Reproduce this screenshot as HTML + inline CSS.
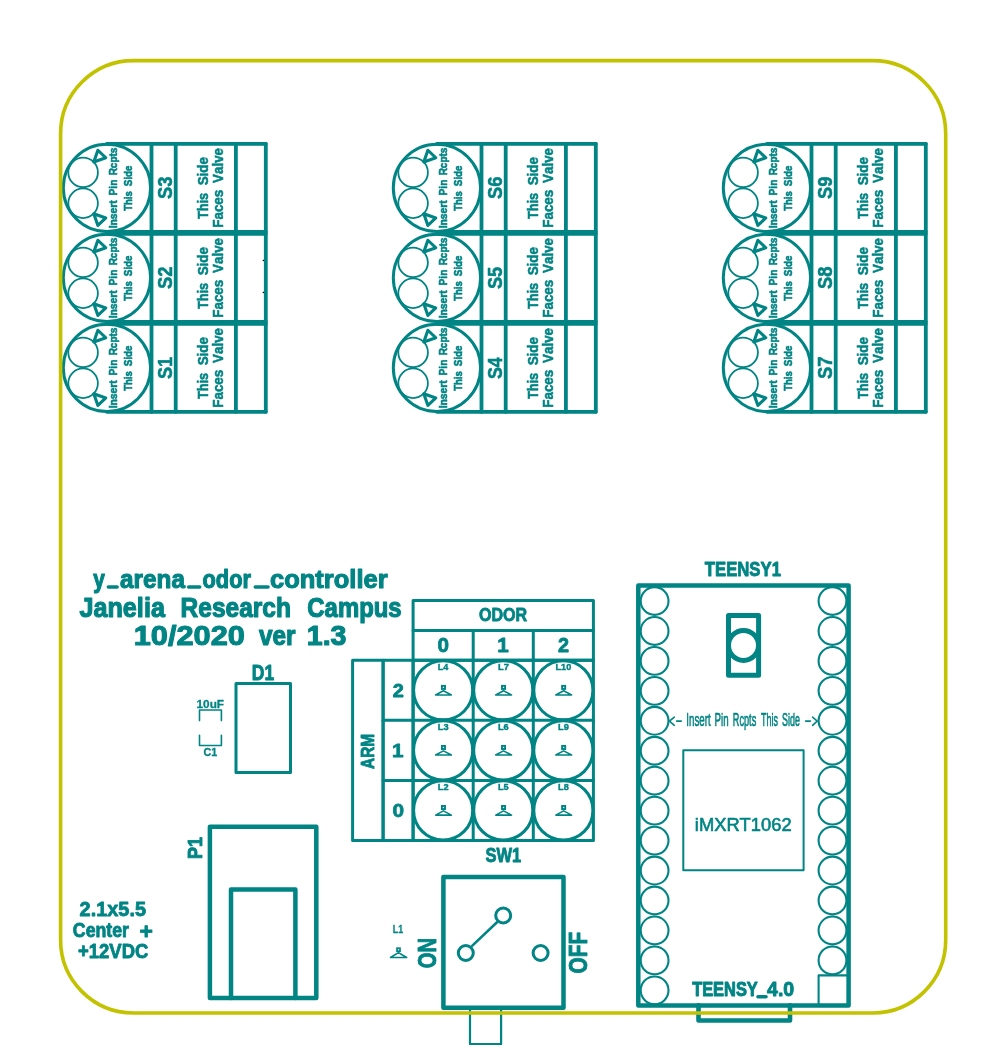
<!DOCTYPE html>
<html><head><meta charset="utf-8"><style>
html,body{margin:0;padding:0;background:#fff;}
svg{display:block}
text{font-family:"Liberation Sans",sans-serif;font-size:100px;font-kerning:none}
</style></head><body>
<svg style="will-change:transform" width="990" height="1050" viewBox="0 0 990 1050" stroke-linecap="round" stroke-linejoin="round">
<rect width="990" height="1050" fill="#fff"/>
<line x1="106.95" y1="143.85" x2="265.8" y2="143.85" stroke="#008484" stroke-width="3.8"/>
<line x1="106.95" y1="231.85" x2="265.8" y2="231.85" stroke="#008484" stroke-width="3.8"/>
<line x1="151.5" y1="143.85" x2="151.5" y2="231.85" stroke="#008484" stroke-width="3.8"/>
<line x1="175.7" y1="143.85" x2="175.7" y2="231.85" stroke="#008484" stroke-width="3.8"/>
<line x1="235.9" y1="143.85" x2="235.9" y2="231.85" stroke="#008484" stroke-width="3.8"/>
<line x1="265.8" y1="143.85" x2="265.8" y2="231.85" stroke="#008484" stroke-width="3.8"/>
<circle cx="106.95" cy="187.85" r="43.65" fill="none" stroke="#008484" stroke-width="3.0"/>
<circle cx="83.1" cy="172.45" r="14.8" fill="none" stroke="#008484" stroke-width="1.8"/>
<circle cx="83.1" cy="203.25" r="14.8" fill="none" stroke="#008484" stroke-width="1.8"/>
<polygon points="97.9,150.25 105.8,157.75 93.8,161.95" fill="none" stroke="#008484" stroke-width="3.1"/>
<polygon points="97.9,225.45 105.8,217.95 93.8,213.75" fill="none" stroke="#008484" stroke-width="3.1"/>
<text transform="translate(116.61,228.36) rotate(-90) scale(0.10293,0.11198)" font-weight="bold" fill="#008484" stroke="#008484" stroke-width="5.12" stroke-linejoin="round">Insert</text>
<text transform="translate(116.61,195.45) rotate(-90) scale(0.10194,0.11195)" font-weight="bold" fill="#008484" stroke="#008484" stroke-width="5.14" stroke-linejoin="round">Pin</text>
<text transform="translate(116.61,175.34) rotate(-90) scale(0.09993,0.11187)" font-weight="bold" fill="#008484" stroke="#008484" stroke-width="5.19" stroke-linejoin="round">Rcpts</text>
<text transform="translate(131.6,210.85) rotate(-90) scale(0.09552,0.11590)" font-weight="bold" fill="#008484" stroke="#008484" stroke-width="5.20" stroke-linejoin="round">This</text>
<text transform="translate(131.6,186.14) rotate(-90) scale(0.09803,0.11600)" font-weight="bold" fill="#008484" stroke="#008484" stroke-width="5.14" stroke-linejoin="round">Side</text>
<text transform="translate(172.32,199.12) rotate(-90) scale(0.18391,0.21079)" font-weight="bold" fill="#008484" stroke="#008484" stroke-width="2.53" stroke-linejoin="round">S3</text>
<text transform="translate(207.73,219.1) rotate(-90) scale(0.12821,0.15157)" font-weight="bold" fill="#008484" stroke="#008484" stroke-width="3.57" stroke-linejoin="round">This</text>
<text transform="translate(207.73,185.37) rotate(-90) scale(0.13430,0.15173)" font-weight="bold" fill="#008484" stroke="#008484" stroke-width="3.50" stroke-linejoin="round">Side</text>
<text transform="translate(222.83,227.81) rotate(-90) scale(0.13468,0.15316)" font-weight="bold" fill="#008484" stroke="#008484" stroke-width="3.47" stroke-linejoin="round">Faces</text>
<text transform="translate(222.83,182.9) rotate(-90) scale(0.13360,0.15313)" font-weight="bold" fill="#008484" stroke="#008484" stroke-width="3.49" stroke-linejoin="round">Valve</text>
<line x1="106.95" y1="233.85" x2="265.8" y2="233.85" stroke="#008484" stroke-width="3.8"/>
<line x1="106.95" y1="321.85" x2="265.8" y2="321.85" stroke="#008484" stroke-width="3.8"/>
<line x1="151.5" y1="233.85" x2="151.5" y2="321.85" stroke="#008484" stroke-width="3.8"/>
<line x1="175.7" y1="233.85" x2="175.7" y2="321.85" stroke="#008484" stroke-width="3.8"/>
<line x1="235.9" y1="233.85" x2="235.9" y2="321.85" stroke="#008484" stroke-width="3.8"/>
<line x1="265.8" y1="233.85" x2="265.8" y2="321.85" stroke="#008484" stroke-width="3.8"/>
<circle cx="106.95" cy="277.85" r="43.65" fill="none" stroke="#008484" stroke-width="3.0"/>
<circle cx="83.1" cy="262.45" r="14.8" fill="none" stroke="#008484" stroke-width="1.8"/>
<circle cx="83.1" cy="293.25" r="14.8" fill="none" stroke="#008484" stroke-width="1.8"/>
<polygon points="97.9,240.25 105.8,247.75 93.8,251.95" fill="none" stroke="#008484" stroke-width="3.1"/>
<polygon points="97.9,315.45 105.8,307.95 93.8,303.75" fill="none" stroke="#008484" stroke-width="3.1"/>
<text transform="translate(116.61,318.36) rotate(-90) scale(0.10293,0.11198)" font-weight="bold" fill="#008484" stroke="#008484" stroke-width="5.12" stroke-linejoin="round">Insert</text>
<text transform="translate(116.61,285.45) rotate(-90) scale(0.10194,0.11195)" font-weight="bold" fill="#008484" stroke="#008484" stroke-width="5.14" stroke-linejoin="round">Pin</text>
<text transform="translate(116.61,265.34) rotate(-90) scale(0.09993,0.11187)" font-weight="bold" fill="#008484" stroke="#008484" stroke-width="5.19" stroke-linejoin="round">Rcpts</text>
<text transform="translate(131.6,300.85) rotate(-90) scale(0.09552,0.11590)" font-weight="bold" fill="#008484" stroke="#008484" stroke-width="5.20" stroke-linejoin="round">This</text>
<text transform="translate(131.6,276.14) rotate(-90) scale(0.09803,0.11600)" font-weight="bold" fill="#008484" stroke="#008484" stroke-width="5.14" stroke-linejoin="round">Side</text>
<text transform="translate(172.32,289.12) rotate(-90) scale(0.18550,0.21082)" font-weight="bold" fill="#008484" stroke="#008484" stroke-width="2.52" stroke-linejoin="round">S2</text>
<text transform="translate(207.73,309.1) rotate(-90) scale(0.12821,0.15157)" font-weight="bold" fill="#008484" stroke="#008484" stroke-width="3.57" stroke-linejoin="round">This</text>
<text transform="translate(207.73,275.37) rotate(-90) scale(0.13430,0.15173)" font-weight="bold" fill="#008484" stroke="#008484" stroke-width="3.50" stroke-linejoin="round">Side</text>
<text transform="translate(222.83,317.81) rotate(-90) scale(0.13468,0.15316)" font-weight="bold" fill="#008484" stroke="#008484" stroke-width="3.47" stroke-linejoin="round">Faces</text>
<text transform="translate(222.83,272.9) rotate(-90) scale(0.13360,0.15313)" font-weight="bold" fill="#008484" stroke="#008484" stroke-width="3.49" stroke-linejoin="round">Valve</text>
<line x1="106.95" y1="323.85" x2="265.8" y2="323.85" stroke="#008484" stroke-width="3.8"/>
<line x1="106.95" y1="411.85" x2="265.8" y2="411.85" stroke="#008484" stroke-width="3.8"/>
<line x1="151.5" y1="323.85" x2="151.5" y2="411.85" stroke="#008484" stroke-width="3.8"/>
<line x1="175.7" y1="323.85" x2="175.7" y2="411.85" stroke="#008484" stroke-width="3.8"/>
<line x1="235.9" y1="323.85" x2="235.9" y2="411.85" stroke="#008484" stroke-width="3.8"/>
<line x1="265.8" y1="323.85" x2="265.8" y2="411.85" stroke="#008484" stroke-width="3.8"/>
<circle cx="106.95" cy="367.85" r="43.65" fill="none" stroke="#008484" stroke-width="3.0"/>
<circle cx="83.1" cy="352.45" r="14.8" fill="none" stroke="#008484" stroke-width="1.8"/>
<circle cx="83.1" cy="383.25" r="14.8" fill="none" stroke="#008484" stroke-width="1.8"/>
<polygon points="97.9,330.25 105.8,337.75 93.8,341.95" fill="none" stroke="#008484" stroke-width="3.1"/>
<polygon points="97.9,405.45 105.8,397.95 93.8,393.75" fill="none" stroke="#008484" stroke-width="3.1"/>
<text transform="translate(116.61,408.36) rotate(-90) scale(0.10293,0.11198)" font-weight="bold" fill="#008484" stroke="#008484" stroke-width="5.12" stroke-linejoin="round">Insert</text>
<text transform="translate(116.61,375.45) rotate(-90) scale(0.10194,0.11195)" font-weight="bold" fill="#008484" stroke="#008484" stroke-width="5.14" stroke-linejoin="round">Pin</text>
<text transform="translate(116.61,355.34) rotate(-90) scale(0.09993,0.11187)" font-weight="bold" fill="#008484" stroke="#008484" stroke-width="5.19" stroke-linejoin="round">Rcpts</text>
<text transform="translate(131.6,390.85) rotate(-90) scale(0.09552,0.11590)" font-weight="bold" fill="#008484" stroke="#008484" stroke-width="5.20" stroke-linejoin="round">This</text>
<text transform="translate(131.6,366.14) rotate(-90) scale(0.09803,0.11600)" font-weight="bold" fill="#008484" stroke="#008484" stroke-width="5.14" stroke-linejoin="round">Side</text>
<text transform="translate(172.32,379.12) rotate(-90) scale(0.18236,0.21076)" font-weight="bold" fill="#008484" stroke="#008484" stroke-width="2.54" stroke-linejoin="round">S1</text>
<text transform="translate(207.73,399.1) rotate(-90) scale(0.12821,0.15157)" font-weight="bold" fill="#008484" stroke="#008484" stroke-width="3.57" stroke-linejoin="round">This</text>
<text transform="translate(207.73,365.37) rotate(-90) scale(0.13430,0.15173)" font-weight="bold" fill="#008484" stroke="#008484" stroke-width="3.50" stroke-linejoin="round">Side</text>
<text transform="translate(222.83,407.81) rotate(-90) scale(0.13468,0.15316)" font-weight="bold" fill="#008484" stroke="#008484" stroke-width="3.47" stroke-linejoin="round">Faces</text>
<text transform="translate(222.83,362.9) rotate(-90) scale(0.13360,0.15313)" font-weight="bold" fill="#008484" stroke="#008484" stroke-width="3.49" stroke-linejoin="round">Valve</text>
<line x1="436.95" y1="143.85" x2="595.8" y2="143.85" stroke="#008484" stroke-width="3.8"/>
<line x1="436.95" y1="231.85" x2="595.8" y2="231.85" stroke="#008484" stroke-width="3.8"/>
<line x1="481.5" y1="143.85" x2="481.5" y2="231.85" stroke="#008484" stroke-width="3.8"/>
<line x1="505.7" y1="143.85" x2="505.7" y2="231.85" stroke="#008484" stroke-width="3.8"/>
<line x1="565.9" y1="143.85" x2="565.9" y2="231.85" stroke="#008484" stroke-width="3.8"/>
<line x1="595.8" y1="143.85" x2="595.8" y2="231.85" stroke="#008484" stroke-width="3.8"/>
<circle cx="436.95" cy="187.85" r="43.65" fill="none" stroke="#008484" stroke-width="3.0"/>
<circle cx="413.1" cy="172.45" r="14.8" fill="none" stroke="#008484" stroke-width="1.8"/>
<circle cx="413.1" cy="203.25" r="14.8" fill="none" stroke="#008484" stroke-width="1.8"/>
<polygon points="427.9,150.25 435.8,157.75 423.8,161.95" fill="none" stroke="#008484" stroke-width="3.1"/>
<polygon points="427.9,225.45 435.8,217.95 423.8,213.75" fill="none" stroke="#008484" stroke-width="3.1"/>
<text transform="translate(446.61,228.36) rotate(-90) scale(0.10293,0.11198)" font-weight="bold" fill="#008484" stroke="#008484" stroke-width="5.12" stroke-linejoin="round">Insert</text>
<text transform="translate(446.61,195.45) rotate(-90) scale(0.10194,0.11195)" font-weight="bold" fill="#008484" stroke="#008484" stroke-width="5.14" stroke-linejoin="round">Pin</text>
<text transform="translate(446.61,175.34) rotate(-90) scale(0.09993,0.11187)" font-weight="bold" fill="#008484" stroke="#008484" stroke-width="5.19" stroke-linejoin="round">Rcpts</text>
<text transform="translate(461.6,210.85) rotate(-90) scale(0.09552,0.11590)" font-weight="bold" fill="#008484" stroke="#008484" stroke-width="5.20" stroke-linejoin="round">This</text>
<text transform="translate(461.6,186.14) rotate(-90) scale(0.09803,0.11600)" font-weight="bold" fill="#008484" stroke="#008484" stroke-width="5.14" stroke-linejoin="round">Side</text>
<text transform="translate(502.32,199.12) rotate(-90) scale(0.18391,0.21079)" font-weight="bold" fill="#008484" stroke="#008484" stroke-width="2.53" stroke-linejoin="round">S6</text>
<text transform="translate(537.73,219.1) rotate(-90) scale(0.12821,0.15157)" font-weight="bold" fill="#008484" stroke="#008484" stroke-width="3.57" stroke-linejoin="round">This</text>
<text transform="translate(537.73,185.37) rotate(-90) scale(0.13430,0.15173)" font-weight="bold" fill="#008484" stroke="#008484" stroke-width="3.50" stroke-linejoin="round">Side</text>
<text transform="translate(552.83,227.81) rotate(-90) scale(0.13468,0.15316)" font-weight="bold" fill="#008484" stroke="#008484" stroke-width="3.47" stroke-linejoin="round">Faces</text>
<text transform="translate(552.83,182.9) rotate(-90) scale(0.13360,0.15313)" font-weight="bold" fill="#008484" stroke="#008484" stroke-width="3.49" stroke-linejoin="round">Valve</text>
<line x1="436.95" y1="233.85" x2="595.8" y2="233.85" stroke="#008484" stroke-width="3.8"/>
<line x1="436.95" y1="321.85" x2="595.8" y2="321.85" stroke="#008484" stroke-width="3.8"/>
<line x1="481.5" y1="233.85" x2="481.5" y2="321.85" stroke="#008484" stroke-width="3.8"/>
<line x1="505.7" y1="233.85" x2="505.7" y2="321.85" stroke="#008484" stroke-width="3.8"/>
<line x1="565.9" y1="233.85" x2="565.9" y2="321.85" stroke="#008484" stroke-width="3.8"/>
<line x1="595.8" y1="233.85" x2="595.8" y2="321.85" stroke="#008484" stroke-width="3.8"/>
<circle cx="436.95" cy="277.85" r="43.65" fill="none" stroke="#008484" stroke-width="3.0"/>
<circle cx="413.1" cy="262.45" r="14.8" fill="none" stroke="#008484" stroke-width="1.8"/>
<circle cx="413.1" cy="293.25" r="14.8" fill="none" stroke="#008484" stroke-width="1.8"/>
<polygon points="427.9,240.25 435.8,247.75 423.8,251.95" fill="none" stroke="#008484" stroke-width="3.1"/>
<polygon points="427.9,315.45 435.8,307.95 423.8,303.75" fill="none" stroke="#008484" stroke-width="3.1"/>
<text transform="translate(446.61,318.36) rotate(-90) scale(0.10293,0.11198)" font-weight="bold" fill="#008484" stroke="#008484" stroke-width="5.12" stroke-linejoin="round">Insert</text>
<text transform="translate(446.61,285.45) rotate(-90) scale(0.10194,0.11195)" font-weight="bold" fill="#008484" stroke="#008484" stroke-width="5.14" stroke-linejoin="round">Pin</text>
<text transform="translate(446.61,265.34) rotate(-90) scale(0.09993,0.11187)" font-weight="bold" fill="#008484" stroke="#008484" stroke-width="5.19" stroke-linejoin="round">Rcpts</text>
<text transform="translate(461.6,300.85) rotate(-90) scale(0.09552,0.11590)" font-weight="bold" fill="#008484" stroke="#008484" stroke-width="5.20" stroke-linejoin="round">This</text>
<text transform="translate(461.6,276.14) rotate(-90) scale(0.09803,0.11600)" font-weight="bold" fill="#008484" stroke="#008484" stroke-width="5.14" stroke-linejoin="round">Side</text>
<text transform="translate(502.32,289.12) rotate(-90) scale(0.18236,0.21076)" font-weight="bold" fill="#008484" stroke="#008484" stroke-width="2.54" stroke-linejoin="round">S5</text>
<text transform="translate(537.73,309.1) rotate(-90) scale(0.12821,0.15157)" font-weight="bold" fill="#008484" stroke="#008484" stroke-width="3.57" stroke-linejoin="round">This</text>
<text transform="translate(537.73,275.37) rotate(-90) scale(0.13430,0.15173)" font-weight="bold" fill="#008484" stroke="#008484" stroke-width="3.50" stroke-linejoin="round">Side</text>
<text transform="translate(552.83,317.81) rotate(-90) scale(0.13468,0.15316)" font-weight="bold" fill="#008484" stroke="#008484" stroke-width="3.47" stroke-linejoin="round">Faces</text>
<text transform="translate(552.83,272.9) rotate(-90) scale(0.13360,0.15313)" font-weight="bold" fill="#008484" stroke="#008484" stroke-width="3.49" stroke-linejoin="round">Valve</text>
<line x1="436.95" y1="323.85" x2="595.8" y2="323.85" stroke="#008484" stroke-width="3.8"/>
<line x1="436.95" y1="411.85" x2="595.8" y2="411.85" stroke="#008484" stroke-width="3.8"/>
<line x1="481.5" y1="323.85" x2="481.5" y2="411.85" stroke="#008484" stroke-width="3.8"/>
<line x1="505.7" y1="323.85" x2="505.7" y2="411.85" stroke="#008484" stroke-width="3.8"/>
<line x1="565.9" y1="323.85" x2="565.9" y2="411.85" stroke="#008484" stroke-width="3.8"/>
<line x1="595.8" y1="323.85" x2="595.8" y2="411.85" stroke="#008484" stroke-width="3.8"/>
<circle cx="436.95" cy="367.85" r="43.65" fill="none" stroke="#008484" stroke-width="3.0"/>
<circle cx="413.1" cy="352.45" r="14.8" fill="none" stroke="#008484" stroke-width="1.8"/>
<circle cx="413.1" cy="383.25" r="14.8" fill="none" stroke="#008484" stroke-width="1.8"/>
<polygon points="427.9,330.25 435.8,337.75 423.8,341.95" fill="none" stroke="#008484" stroke-width="3.1"/>
<polygon points="427.9,405.45 435.8,397.95 423.8,393.75" fill="none" stroke="#008484" stroke-width="3.1"/>
<text transform="translate(446.61,408.36) rotate(-90) scale(0.10293,0.11198)" font-weight="bold" fill="#008484" stroke="#008484" stroke-width="5.12" stroke-linejoin="round">Insert</text>
<text transform="translate(446.61,375.45) rotate(-90) scale(0.10194,0.11195)" font-weight="bold" fill="#008484" stroke="#008484" stroke-width="5.14" stroke-linejoin="round">Pin</text>
<text transform="translate(446.61,355.34) rotate(-90) scale(0.09993,0.11187)" font-weight="bold" fill="#008484" stroke="#008484" stroke-width="5.19" stroke-linejoin="round">Rcpts</text>
<text transform="translate(461.6,390.85) rotate(-90) scale(0.09552,0.11590)" font-weight="bold" fill="#008484" stroke="#008484" stroke-width="5.20" stroke-linejoin="round">This</text>
<text transform="translate(461.6,366.14) rotate(-90) scale(0.09803,0.11600)" font-weight="bold" fill="#008484" stroke="#008484" stroke-width="5.14" stroke-linejoin="round">Side</text>
<text transform="translate(502.32,379.11) rotate(-90) scale(0.17933,0.21070)" font-weight="bold" fill="#008484" stroke="#008484" stroke-width="2.56" stroke-linejoin="round">S4</text>
<text transform="translate(537.73,399.1) rotate(-90) scale(0.12821,0.15157)" font-weight="bold" fill="#008484" stroke="#008484" stroke-width="3.57" stroke-linejoin="round">This</text>
<text transform="translate(537.73,365.37) rotate(-90) scale(0.13430,0.15173)" font-weight="bold" fill="#008484" stroke="#008484" stroke-width="3.50" stroke-linejoin="round">Side</text>
<text transform="translate(552.83,407.81) rotate(-90) scale(0.13468,0.15316)" font-weight="bold" fill="#008484" stroke="#008484" stroke-width="3.47" stroke-linejoin="round">Faces</text>
<text transform="translate(552.83,362.9) rotate(-90) scale(0.13360,0.15313)" font-weight="bold" fill="#008484" stroke="#008484" stroke-width="3.49" stroke-linejoin="round">Valve</text>
<line x1="766.95" y1="143.85" x2="925.8" y2="143.85" stroke="#008484" stroke-width="3.8"/>
<line x1="766.95" y1="231.85" x2="925.8" y2="231.85" stroke="#008484" stroke-width="3.8"/>
<line x1="811.5" y1="143.85" x2="811.5" y2="231.85" stroke="#008484" stroke-width="3.8"/>
<line x1="835.7" y1="143.85" x2="835.7" y2="231.85" stroke="#008484" stroke-width="3.8"/>
<line x1="895.9" y1="143.85" x2="895.9" y2="231.85" stroke="#008484" stroke-width="3.8"/>
<line x1="925.8" y1="143.85" x2="925.8" y2="231.85" stroke="#008484" stroke-width="3.8"/>
<circle cx="766.95" cy="187.85" r="43.65" fill="none" stroke="#008484" stroke-width="3.0"/>
<circle cx="743.1" cy="172.45" r="14.8" fill="none" stroke="#008484" stroke-width="1.8"/>
<circle cx="743.1" cy="203.25" r="14.8" fill="none" stroke="#008484" stroke-width="1.8"/>
<polygon points="757.9,150.25 765.8,157.75 753.8,161.95" fill="none" stroke="#008484" stroke-width="3.1"/>
<polygon points="757.9,225.45 765.8,217.95 753.8,213.75" fill="none" stroke="#008484" stroke-width="3.1"/>
<text transform="translate(776.61,228.36) rotate(-90) scale(0.10293,0.11198)" font-weight="bold" fill="#008484" stroke="#008484" stroke-width="5.12" stroke-linejoin="round">Insert</text>
<text transform="translate(776.61,195.45) rotate(-90) scale(0.10194,0.11195)" font-weight="bold" fill="#008484" stroke="#008484" stroke-width="5.14" stroke-linejoin="round">Pin</text>
<text transform="translate(776.61,175.34) rotate(-90) scale(0.09993,0.11187)" font-weight="bold" fill="#008484" stroke="#008484" stroke-width="5.19" stroke-linejoin="round">Rcpts</text>
<text transform="translate(791.6,210.85) rotate(-90) scale(0.09552,0.11590)" font-weight="bold" fill="#008484" stroke="#008484" stroke-width="5.20" stroke-linejoin="round">This</text>
<text transform="translate(791.6,186.14) rotate(-90) scale(0.09803,0.11600)" font-weight="bold" fill="#008484" stroke="#008484" stroke-width="5.14" stroke-linejoin="round">Side</text>
<text transform="translate(832.32,199.12) rotate(-90) scale(0.18391,0.21079)" font-weight="bold" fill="#008484" stroke="#008484" stroke-width="2.53" stroke-linejoin="round">S9</text>
<text transform="translate(867.73,219.1) rotate(-90) scale(0.12821,0.15157)" font-weight="bold" fill="#008484" stroke="#008484" stroke-width="3.57" stroke-linejoin="round">This</text>
<text transform="translate(867.73,185.37) rotate(-90) scale(0.13430,0.15173)" font-weight="bold" fill="#008484" stroke="#008484" stroke-width="3.50" stroke-linejoin="round">Side</text>
<text transform="translate(882.83,227.81) rotate(-90) scale(0.13468,0.15316)" font-weight="bold" fill="#008484" stroke="#008484" stroke-width="3.47" stroke-linejoin="round">Faces</text>
<text transform="translate(882.83,182.9) rotate(-90) scale(0.13360,0.15313)" font-weight="bold" fill="#008484" stroke="#008484" stroke-width="3.49" stroke-linejoin="round">Valve</text>
<line x1="766.95" y1="233.85" x2="925.8" y2="233.85" stroke="#008484" stroke-width="3.8"/>
<line x1="766.95" y1="321.85" x2="925.8" y2="321.85" stroke="#008484" stroke-width="3.8"/>
<line x1="811.5" y1="233.85" x2="811.5" y2="321.85" stroke="#008484" stroke-width="3.8"/>
<line x1="835.7" y1="233.85" x2="835.7" y2="321.85" stroke="#008484" stroke-width="3.8"/>
<line x1="895.9" y1="233.85" x2="895.9" y2="321.85" stroke="#008484" stroke-width="3.8"/>
<line x1="925.8" y1="233.85" x2="925.8" y2="321.85" stroke="#008484" stroke-width="3.8"/>
<circle cx="766.95" cy="277.85" r="43.65" fill="none" stroke="#008484" stroke-width="3.0"/>
<circle cx="743.1" cy="262.45" r="14.8" fill="none" stroke="#008484" stroke-width="1.8"/>
<circle cx="743.1" cy="293.25" r="14.8" fill="none" stroke="#008484" stroke-width="1.8"/>
<polygon points="757.9,240.25 765.8,247.75 753.8,251.95" fill="none" stroke="#008484" stroke-width="3.1"/>
<polygon points="757.9,315.45 765.8,307.95 753.8,303.75" fill="none" stroke="#008484" stroke-width="3.1"/>
<text transform="translate(776.61,318.36) rotate(-90) scale(0.10293,0.11198)" font-weight="bold" fill="#008484" stroke="#008484" stroke-width="5.12" stroke-linejoin="round">Insert</text>
<text transform="translate(776.61,285.45) rotate(-90) scale(0.10194,0.11195)" font-weight="bold" fill="#008484" stroke="#008484" stroke-width="5.14" stroke-linejoin="round">Pin</text>
<text transform="translate(776.61,265.34) rotate(-90) scale(0.09993,0.11187)" font-weight="bold" fill="#008484" stroke="#008484" stroke-width="5.19" stroke-linejoin="round">Rcpts</text>
<text transform="translate(791.6,300.85) rotate(-90) scale(0.09552,0.11590)" font-weight="bold" fill="#008484" stroke="#008484" stroke-width="5.20" stroke-linejoin="round">This</text>
<text transform="translate(791.6,276.14) rotate(-90) scale(0.09803,0.11600)" font-weight="bold" fill="#008484" stroke="#008484" stroke-width="5.14" stroke-linejoin="round">Side</text>
<text transform="translate(832.32,289.12) rotate(-90) scale(0.18391,0.21079)" font-weight="bold" fill="#008484" stroke="#008484" stroke-width="2.53" stroke-linejoin="round">S8</text>
<text transform="translate(867.73,309.1) rotate(-90) scale(0.12821,0.15157)" font-weight="bold" fill="#008484" stroke="#008484" stroke-width="3.57" stroke-linejoin="round">This</text>
<text transform="translate(867.73,275.37) rotate(-90) scale(0.13430,0.15173)" font-weight="bold" fill="#008484" stroke="#008484" stroke-width="3.50" stroke-linejoin="round">Side</text>
<text transform="translate(882.83,317.81) rotate(-90) scale(0.13468,0.15316)" font-weight="bold" fill="#008484" stroke="#008484" stroke-width="3.47" stroke-linejoin="round">Faces</text>
<text transform="translate(882.83,272.9) rotate(-90) scale(0.13360,0.15313)" font-weight="bold" fill="#008484" stroke="#008484" stroke-width="3.49" stroke-linejoin="round">Valve</text>
<line x1="766.95" y1="323.85" x2="925.8" y2="323.85" stroke="#008484" stroke-width="3.8"/>
<line x1="766.95" y1="411.85" x2="925.8" y2="411.85" stroke="#008484" stroke-width="3.8"/>
<line x1="811.5" y1="323.85" x2="811.5" y2="411.85" stroke="#008484" stroke-width="3.8"/>
<line x1="835.7" y1="323.85" x2="835.7" y2="411.85" stroke="#008484" stroke-width="3.8"/>
<line x1="895.9" y1="323.85" x2="895.9" y2="411.85" stroke="#008484" stroke-width="3.8"/>
<line x1="925.8" y1="323.85" x2="925.8" y2="411.85" stroke="#008484" stroke-width="3.8"/>
<circle cx="766.95" cy="367.85" r="43.65" fill="none" stroke="#008484" stroke-width="3.0"/>
<circle cx="743.1" cy="352.45" r="14.8" fill="none" stroke="#008484" stroke-width="1.8"/>
<circle cx="743.1" cy="383.25" r="14.8" fill="none" stroke="#008484" stroke-width="1.8"/>
<polygon points="757.9,330.25 765.8,337.75 753.8,341.95" fill="none" stroke="#008484" stroke-width="3.1"/>
<polygon points="757.9,405.45 765.8,397.95 753.8,393.75" fill="none" stroke="#008484" stroke-width="3.1"/>
<text transform="translate(776.61,408.36) rotate(-90) scale(0.10293,0.11198)" font-weight="bold" fill="#008484" stroke="#008484" stroke-width="5.12" stroke-linejoin="round">Insert</text>
<text transform="translate(776.61,375.45) rotate(-90) scale(0.10194,0.11195)" font-weight="bold" fill="#008484" stroke="#008484" stroke-width="5.14" stroke-linejoin="round">Pin</text>
<text transform="translate(776.61,355.34) rotate(-90) scale(0.09993,0.11187)" font-weight="bold" fill="#008484" stroke="#008484" stroke-width="5.19" stroke-linejoin="round">Rcpts</text>
<text transform="translate(791.6,390.85) rotate(-90) scale(0.09552,0.11590)" font-weight="bold" fill="#008484" stroke="#008484" stroke-width="5.20" stroke-linejoin="round">This</text>
<text transform="translate(791.6,366.14) rotate(-90) scale(0.09803,0.11600)" font-weight="bold" fill="#008484" stroke="#008484" stroke-width="5.14" stroke-linejoin="round">Side</text>
<text transform="translate(832.32,379.12) rotate(-90) scale(0.18550,0.21082)" font-weight="bold" fill="#008484" stroke="#008484" stroke-width="2.52" stroke-linejoin="round">S7</text>
<text transform="translate(867.73,399.1) rotate(-90) scale(0.12821,0.15157)" font-weight="bold" fill="#008484" stroke="#008484" stroke-width="3.57" stroke-linejoin="round">This</text>
<text transform="translate(867.73,365.37) rotate(-90) scale(0.13430,0.15173)" font-weight="bold" fill="#008484" stroke="#008484" stroke-width="3.50" stroke-linejoin="round">Side</text>
<text transform="translate(882.83,407.81) rotate(-90) scale(0.13468,0.15316)" font-weight="bold" fill="#008484" stroke="#008484" stroke-width="3.47" stroke-linejoin="round">Faces</text>
<text transform="translate(882.83,362.9) rotate(-90) scale(0.13360,0.15313)" font-weight="bold" fill="#008484" stroke="#008484" stroke-width="3.49" stroke-linejoin="round">Valve</text>
<text transform="translate(93.28,588.18) scale(0.20802,0.26530)" font-weight="bold" fill="#008484" stroke="#008484" stroke-width="4.65" stroke-linejoin="round">y</text>
<text transform="translate(120.1,588.22) scale(0.24299,0.26643)" font-weight="bold" fill="#008484" stroke="#008484" stroke-width="4.32" stroke-linejoin="round">arena</text>
<text transform="translate(202.52,588.2) scale(0.21801,0.26564)" font-weight="bold" fill="#008484" stroke="#008484" stroke-width="4.55" stroke-linejoin="round">odor</text>
<text transform="translate(270.02,588.24) scale(0.25510,0.26679)" font-weight="bold" fill="#008484" stroke="#008484" stroke-width="4.22" stroke-linejoin="round">controller</text>
<line x1="108.4" y1="587" x2="117.1" y2="587" stroke="#008484" stroke-width="3.6"/>
<line x1="188.7" y1="587" x2="199.7" y2="587" stroke="#008484" stroke-width="3.6"/>
<line x1="255.3" y1="587" x2="268" y2="587" stroke="#008484" stroke-width="3.6"/>
<text transform="translate(79.42,616.63) scale(0.25220,0.27327)" font-weight="bold" fill="#008484" stroke="#008484" stroke-width="4.19" stroke-linejoin="round">Janelia</text>
<text transform="translate(180.6,616.62) scale(0.24522,0.27306)" font-weight="bold" fill="#008484" stroke="#008484" stroke-width="4.24" stroke-linejoin="round">Research</text>
<text transform="translate(307.36,616.61) scale(0.23905,0.27286)" font-weight="bold" fill="#008484" stroke="#008484" stroke-width="4.30" stroke-linejoin="round">Campus</text>
<text transform="translate(133.74,645.48) scale(0.30752,0.27481)" font-weight="bold" fill="#008484" stroke="#008484" stroke-width="3.78" stroke-linejoin="round">10/2020</text>
<text transform="translate(258.98,645.42) scale(0.24367,0.27301)" font-weight="bold" fill="#008484" stroke="#008484" stroke-width="4.26" stroke-linejoin="round">ver</text>
<text transform="translate(306.75,645.46) scale(0.28587,0.27424)" font-weight="bold" fill="#008484" stroke="#008484" stroke-width="3.93" stroke-linejoin="round">1.3</text>
<rect x="413.1" y="600.6" width="180.3" height="29.8" fill="none" stroke="#008484" stroke-width="3.0"/>
<rect x="413.1" y="630.4" width="180.3" height="29.9" fill="none" stroke="#008484" stroke-width="3.0"/>
<line x1="473.2" y1="630.4" x2="473.2" y2="660.3" stroke="#008484" stroke-width="3.0"/>
<line x1="533.3" y1="630.4" x2="533.3" y2="660.3" stroke="#008484" stroke-width="3.0"/>
<rect x="352.6" y="660.3" width="30.5" height="180.1" fill="none" stroke="#008484" stroke-width="3.0"/>
<rect x="383.1" y="660.3" width="30" height="180.1" fill="none" stroke="#008484" stroke-width="3.0"/>
<line x1="383.1" y1="720.3" x2="413.1" y2="720.3" stroke="#008484" stroke-width="3.0"/>
<line x1="383.1" y1="780.4" x2="413.1" y2="780.4" stroke="#008484" stroke-width="3.0"/>
<rect x="413.1" y="660.3" width="180.3" height="180.1" fill="none" stroke="#008484" stroke-width="3.0"/>
<line x1="473.2" y1="660.3" x2="473.2" y2="840.4" stroke="#008484" stroke-width="3.0"/>
<line x1="533.3" y1="660.3" x2="533.3" y2="840.4" stroke="#008484" stroke-width="3.0"/>
<line x1="413.1" y1="720.3" x2="593.4" y2="720.3" stroke="#008484" stroke-width="3.0"/>
<line x1="413.1" y1="780.4" x2="593.4" y2="780.4" stroke="#008484" stroke-width="3.0"/>
<text transform="translate(478.92,621.28) scale(0.16044,0.19058)" font-weight="bold" fill="#008484" stroke="#008484" stroke-width="4.56" stroke-linejoin="round">ODOR</text>
<text transform="translate(437.53,651.8) scale(0.20619,0.20154)" font-weight="bold" fill="#008484" stroke="#008484" stroke-width="3.92" stroke-linejoin="round">0</text>
<text transform="translate(497.21,652) scale(0.20642,0.20722)" font-weight="bold" fill="#008484" stroke="#008484" stroke-width="3.87" stroke-linejoin="round">1</text>
<text transform="translate(557.95,651.99) scale(0.19820,0.20412)" font-weight="bold" fill="#008484" stroke="#008484" stroke-width="3.98" stroke-linejoin="round">2</text>
<text transform="translate(374.26,768.9) rotate(-90) scale(0.15404,0.18868)" font-weight="bold" fill="#008484" stroke="#008484" stroke-width="4.67" stroke-linejoin="round">ARM</text>
<text transform="translate(392.71,696.91) scale(0.19955,0.18889)" font-weight="bold" fill="#008484" stroke="#008484" stroke-width="4.12" stroke-linejoin="round">2</text>
<text transform="translate(392.07,756.97) scale(0.20783,0.19177)" font-weight="bold" fill="#008484" stroke="#008484" stroke-width="4.00" stroke-linejoin="round">1</text>
<text transform="translate(392.49,816.83) scale(0.20760,0.18652)" font-weight="bold" fill="#008484" stroke="#008484" stroke-width="4.06" stroke-linejoin="round">0</text>
<circle cx="443.15" cy="690.3" r="29.6" fill="none" stroke="#008484" stroke-width="3.1"/>
<rect x="441.9" y="685.85" width="3.1" height="3.1" fill="none" stroke="#008484" stroke-width="1.9" stroke-linejoin="miter"/>
<polygon points="443.4,690.8 451.4,695 435.6,695" fill="none" stroke="#008484" stroke-width="1.6"/>
<text transform="translate(437.86,669.69) scale(0.09004,0.09689)" font-weight="bold" fill="#008484" stroke="#008484" stroke-width="4.28" stroke-linejoin="round">L4</text>
<circle cx="503.25" cy="690.3" r="29.6" fill="none" stroke="#008484" stroke-width="3.1"/>
<rect x="502" y="685.85" width="3.1" height="3.1" fill="none" stroke="#008484" stroke-width="1.9" stroke-linejoin="miter"/>
<polygon points="503.5,690.8 511.5,695 495.7,695" fill="none" stroke="#008484" stroke-width="1.6"/>
<text transform="translate(497.94,669.7) scale(0.09341,0.09699)" font-weight="bold" fill="#008484" stroke="#008484" stroke-width="4.20" stroke-linejoin="round">L7</text>
<circle cx="563.35" cy="690.3" r="29.6" fill="none" stroke="#008484" stroke-width="3.1"/>
<rect x="562.1" y="685.85" width="3.1" height="3.1" fill="none" stroke="#008484" stroke-width="1.9" stroke-linejoin="miter"/>
<polygon points="563.6,690.8 571.6,695 555.8,695" fill="none" stroke="#008484" stroke-width="1.6"/>
<text transform="translate(555.56,669.59) scale(0.09080,0.09974)" font-weight="bold" fill="#008484" stroke="#008484" stroke-width="4.20" stroke-linejoin="round">L10</text>
<circle cx="443.15" cy="750.35" r="29.6" fill="none" stroke="#008484" stroke-width="3.1"/>
<rect x="441.9" y="745.9" width="3.1" height="3.1" fill="none" stroke="#008484" stroke-width="1.9" stroke-linejoin="miter"/>
<polygon points="443.4,750.85 451.4,755.05 435.6,755.05" fill="none" stroke="#008484" stroke-width="1.6"/>
<text transform="translate(437.85,729.65) scale(0.09249,0.09431)" font-weight="bold" fill="#008484" stroke="#008484" stroke-width="4.28" stroke-linejoin="round">L3</text>
<circle cx="503.25" cy="750.35" r="29.6" fill="none" stroke="#008484" stroke-width="3.1"/>
<rect x="502" y="745.9" width="3.1" height="3.1" fill="none" stroke="#008484" stroke-width="1.9" stroke-linejoin="miter"/>
<polygon points="503.5,750.85 511.5,755.05 495.7,755.05" fill="none" stroke="#008484" stroke-width="1.6"/>
<text transform="translate(497.95,729.65) scale(0.09249,0.09431)" font-weight="bold" fill="#008484" stroke="#008484" stroke-width="4.28" stroke-linejoin="round">L6</text>
<circle cx="563.35" cy="750.35" r="29.6" fill="none" stroke="#008484" stroke-width="3.1"/>
<rect x="562.1" y="745.9" width="3.1" height="3.1" fill="none" stroke="#008484" stroke-width="1.9" stroke-linejoin="miter"/>
<polygon points="563.6,750.85 571.6,755.05 555.8,755.05" fill="none" stroke="#008484" stroke-width="1.6"/>
<text transform="translate(558.05,729.65) scale(0.09249,0.09431)" font-weight="bold" fill="#008484" stroke="#008484" stroke-width="4.28" stroke-linejoin="round">L9</text>
<circle cx="443.15" cy="810.4" r="29.6" fill="none" stroke="#008484" stroke-width="3.1"/>
<rect x="441.9" y="805.95" width="3.1" height="3.1" fill="none" stroke="#008484" stroke-width="1.9" stroke-linejoin="miter"/>
<polygon points="443.4,810.9 451.4,815.1 435.6,815.1" fill="none" stroke="#008484" stroke-width="1.6"/>
<text transform="translate(437.85,789.8) scale(0.09252,0.09562)" font-weight="bold" fill="#008484" stroke="#008484" stroke-width="4.25" stroke-linejoin="round">L2</text>
<circle cx="503.25" cy="810.4" r="29.6" fill="none" stroke="#008484" stroke-width="3.1"/>
<rect x="502" y="805.95" width="3.1" height="3.1" fill="none" stroke="#008484" stroke-width="1.9" stroke-linejoin="miter"/>
<polygon points="503.5,810.9 511.5,815.1 495.7,815.1" fill="none" stroke="#008484" stroke-width="1.6"/>
<text transform="translate(497.95,789.7) scale(0.09167,0.09559)" font-weight="bold" fill="#008484" stroke="#008484" stroke-width="4.27" stroke-linejoin="round">L5</text>
<circle cx="563.35" cy="810.4" r="29.6" fill="none" stroke="#008484" stroke-width="3.1"/>
<rect x="562.1" y="805.95" width="3.1" height="3.1" fill="none" stroke="#008484" stroke-width="1.9" stroke-linejoin="miter"/>
<polygon points="563.6,810.9 571.6,815.1 555.8,815.1" fill="none" stroke="#008484" stroke-width="1.6"/>
<text transform="translate(558.06,789.7) scale(0.09164,0.09429)" font-weight="bold" fill="#008484" stroke="#008484" stroke-width="4.30" stroke-linejoin="round">L8</text>
<rect x="236" y="683.6" width="54.5" height="88.8" fill="none" stroke="#008484" stroke-width="3.0"/>
<text transform="translate(251.84,680.26) scale(0.17441,0.21333)" font-weight="bold" fill="#008484" stroke="#008484" stroke-width="4.13" stroke-linejoin="round">D1</text>
<polyline points="199.5,720.6 199.5,710 221.4,710 221.4,720.6" fill="none" stroke="#008484" stroke-width="1.6"/>
<polyline points="199.5,735.2 199.5,745.5 221.4,745.5 221.4,735.2" fill="none" stroke="#008484" stroke-width="1.6"/>
<text transform="translate(196.54,707.64) scale(0.11784,0.11553)" font-weight="bold" fill="#008484" stroke="#008484" stroke-width="2.57" stroke-linejoin="round">10uF</text>
<text transform="translate(203.51,756.13) scale(0.10753,0.11534)" font-weight="bold" fill="#008484" stroke="#008484" stroke-width="2.69" stroke-linejoin="round">C1</text>
<rect x="209.9" y="826.7" width="106.4" height="171.2" fill="none" stroke="#008484" stroke-width="4.5"/>
<polyline points="231,997.9 231,889.6 295.4,889.6 295.4,997.9" fill="none" stroke="#008484" stroke-width="4.5"/>
<text transform="translate(202.27,859.1) rotate(-90) scale(0.18107,0.21072)" font-weight="bold" fill="#008484" stroke="#008484" stroke-width="4.08" stroke-linejoin="round">P1</text>
<text transform="translate(79.6,915.8) scale(0.19909,0.19998)" font-weight="bold" fill="#008484" stroke="#008484" stroke-width="4.01" stroke-linejoin="round">2.1x5.5</text>
<text transform="translate(72.87,936.69) scale(0.17729,0.19386)" font-weight="bold" fill="#008484" stroke="#008484" stroke-width="4.31" stroke-linejoin="round">Center</text>
<text transform="translate(139.48,938.71) scale(0.22985,0.22564)" font-weight="bold" fill="#008484" stroke="#008484" stroke-width="3.51" stroke-linejoin="round">+</text>
<text transform="translate(78.05,957.58) scale(0.18458,0.19956)" font-weight="bold" fill="#008484" stroke="#008484" stroke-width="4.17" stroke-linejoin="round">+12VDC</text>
<rect x="443.4" y="876.9" width="120.1" height="130.9" fill="none" stroke="#008484" stroke-width="4.5"/>
<line x1="470" y1="1007.8" x2="470" y2="1044" stroke="#008484" stroke-width="2.2"/>
<line x1="501.1" y1="1007.8" x2="501.1" y2="1044" stroke="#008484" stroke-width="2.2"/>
<line x1="470" y1="1044" x2="501.1" y2="1044" stroke="#008484" stroke-width="2.2"/>
<circle cx="465.8" cy="953" r="7.5" fill="none" stroke="#008484" stroke-width="3.0"/>
<circle cx="540.6" cy="953" r="7.5" fill="none" stroke="#008484" stroke-width="3.0"/>
<circle cx="503.2" cy="915.5" r="7.5" fill="none" stroke="#008484" stroke-width="3.0"/>
<line x1="472.1" y1="945.9" x2="497" y2="922.3" stroke="#008484" stroke-width="2.6"/>
<text transform="translate(485.46,861.85) scale(0.16487,0.20580)" font-weight="bold" fill="#008484" stroke="#008484" stroke-width="4.32" stroke-linejoin="round">SW1</text>
<text transform="translate(436.4,968.16) rotate(-90) scale(0.20212,0.25641)" font-weight="bold" fill="#008484" stroke="#008484" stroke-width="3.49" stroke-linejoin="round">ON</text>
<text transform="translate(586.5,973.38) rotate(-90) scale(0.20878,0.25935)" font-weight="bold" fill="#008484" stroke="#008484" stroke-width="3.42" stroke-linejoin="round">OFF</text>
<text transform="translate(392.79,932.66) scale(0.08856,0.10904)" font-weight="bold" fill="#008484" stroke="#008484" stroke-width="2.53" stroke-linejoin="round">L1</text>
<rect x="397" y="948.2" width="3" height="3" fill="none" stroke="#008484" stroke-width="1.7" stroke-linejoin="miter"/>
<polygon points="398.5,952.6 406.6,957.5 390.5,957.5" fill="none" stroke="#008484" stroke-width="1.6"/>
<rect x="638.3" y="585.6" width="210.3" height="419.8" fill="none" stroke="#008484" stroke-width="4.5"/>
<circle cx="654.6" cy="601" r="13.9" fill="none" stroke="#008484" stroke-width="2.1"/>
<circle cx="832.5" cy="601" r="13.9" fill="none" stroke="#008484" stroke-width="2.1"/>
<circle cx="654.6" cy="630.95" r="13.9" fill="none" stroke="#008484" stroke-width="2.1"/>
<circle cx="832.5" cy="630.95" r="13.9" fill="none" stroke="#008484" stroke-width="2.1"/>
<circle cx="654.6" cy="660.9" r="13.9" fill="none" stroke="#008484" stroke-width="2.1"/>
<circle cx="832.5" cy="660.9" r="13.9" fill="none" stroke="#008484" stroke-width="2.1"/>
<circle cx="654.6" cy="690.85" r="13.9" fill="none" stroke="#008484" stroke-width="2.1"/>
<circle cx="832.5" cy="690.85" r="13.9" fill="none" stroke="#008484" stroke-width="2.1"/>
<circle cx="654.6" cy="720.8" r="13.9" fill="none" stroke="#008484" stroke-width="2.1"/>
<circle cx="832.5" cy="720.8" r="13.9" fill="none" stroke="#008484" stroke-width="2.1"/>
<circle cx="654.6" cy="750.75" r="13.9" fill="none" stroke="#008484" stroke-width="2.1"/>
<circle cx="832.5" cy="750.75" r="13.9" fill="none" stroke="#008484" stroke-width="2.1"/>
<circle cx="654.6" cy="780.7" r="13.9" fill="none" stroke="#008484" stroke-width="2.1"/>
<circle cx="832.5" cy="780.7" r="13.9" fill="none" stroke="#008484" stroke-width="2.1"/>
<circle cx="654.6" cy="810.65" r="13.9" fill="none" stroke="#008484" stroke-width="2.1"/>
<circle cx="832.5" cy="810.65" r="13.9" fill="none" stroke="#008484" stroke-width="2.1"/>
<circle cx="654.6" cy="840.6" r="13.9" fill="none" stroke="#008484" stroke-width="2.1"/>
<circle cx="832.5" cy="840.6" r="13.9" fill="none" stroke="#008484" stroke-width="2.1"/>
<circle cx="654.6" cy="870.55" r="13.9" fill="none" stroke="#008484" stroke-width="2.1"/>
<circle cx="832.5" cy="870.55" r="13.9" fill="none" stroke="#008484" stroke-width="2.1"/>
<circle cx="654.6" cy="900.5" r="13.9" fill="none" stroke="#008484" stroke-width="2.1"/>
<circle cx="832.5" cy="900.5" r="13.9" fill="none" stroke="#008484" stroke-width="2.1"/>
<circle cx="654.6" cy="930.45" r="13.9" fill="none" stroke="#008484" stroke-width="2.1"/>
<circle cx="832.5" cy="930.45" r="13.9" fill="none" stroke="#008484" stroke-width="2.1"/>
<circle cx="654.6" cy="960.4" r="13.9" fill="none" stroke="#008484" stroke-width="2.1"/>
<circle cx="832.5" cy="960.4" r="13.9" fill="none" stroke="#008484" stroke-width="2.1"/>
<circle cx="654.6" cy="990.35" r="13.9" fill="none" stroke="#008484" stroke-width="2.1"/>
<polyline points="818.6,1005.4 818.6,975.4 848.6,975.4" fill="none" stroke="#008484" stroke-width="2.1"/>
<rect x="728.5" y="615.5" width="30.1" height="59.7" fill="none" stroke="#008484" stroke-width="5.0"/>
<circle cx="743.5" cy="645.4" r="15" fill="none" stroke="#008484" stroke-width="5.0"/>
<polyline points="698.5,1005.4 698.5,1020.5 790,1020.5 790,1005.4" fill="none" stroke="#008484" stroke-width="4.6"/>
<rect x="683.3" y="750.3" width="120.3" height="120" fill="none" stroke="#008484" stroke-width="2.0"/>
<text transform="translate(704.8,576.37) scale(0.16718,0.19765)" font-weight="bold" fill="#008484" stroke="#008484" stroke-width="4.39" stroke-linejoin="round">TEENSY1</text>
<text transform="translate(692.14,996.4) scale(0.16422,0.20297)" font-weight="bold" fill="#008484" stroke="#008484" stroke-width="4.90" stroke-linejoin="round">TEENSY</text>
<text transform="translate(767.05,996.44) scale(0.19563,0.20407)" font-weight="bold" fill="#008484" stroke="#008484" stroke-width="4.50" stroke-linejoin="round">4.0</text>
<line x1="757.9" y1="996.7" x2="766.1" y2="996.7" stroke="#008484" stroke-width="3.4"/>
<text transform="translate(694.82,831.23) scale(0.18351,0.17717)" font-weight="normal" fill="#008484" stroke="#008484" stroke-width="3.33" stroke-linejoin="round">iMXRT1062</text>
<text transform="translate(686.3,726.17) scale(0.09731,0.18329)" font-weight="normal" fill="#008484" stroke="#008484" stroke-width="3.56" stroke-linejoin="round">Insert</text>
<text transform="translate(714.59,726.17) scale(0.09733,0.18329)" font-weight="normal" fill="#008484" stroke="#008484" stroke-width="3.56" stroke-linejoin="round">Pin</text>
<text transform="translate(732.83,726.17) scale(0.09167,0.18310)" font-weight="normal" fill="#008484" stroke="#008484" stroke-width="3.64" stroke-linejoin="round">Rcpts</text>
<text transform="translate(761.09,726.16) scale(0.08892,0.18300)" font-weight="normal" fill="#008484" stroke="#008484" stroke-width="3.68" stroke-linejoin="round">This</text>
<text transform="translate(782.02,726.16) scale(0.08938,0.18302)" font-weight="normal" fill="#008484" stroke="#008484" stroke-width="3.67" stroke-linejoin="round">Side</text>
<polyline points="674.3,717.2 669.5,721.2 674.3,725.3" fill="none" stroke="#008484" stroke-width="1.6"/>
<line x1="676.6" y1="721.1" x2="681.3" y2="721.1" stroke="#008484" stroke-width="1.6"/>
<line x1="805.6" y1="721.1" x2="810.4" y2="721.1" stroke="#008484" stroke-width="1.6"/>
<polyline points="812.6,717.2 817.2,721.2 812.6,725.3" fill="none" stroke="#008484" stroke-width="1.6"/>
<rect x="262.7" y="259.8" width="1.3" height="1.3" fill="#000"/>
<rect x="262.7" y="291.8" width="1.3" height="1.3" fill="#000"/>
<rect x="60.6" y="60.6" width="885.1" height="952.4" rx="73" ry="73" fill="none" stroke="#C2C200" stroke-width="3.6"/>
</svg></body></html>
